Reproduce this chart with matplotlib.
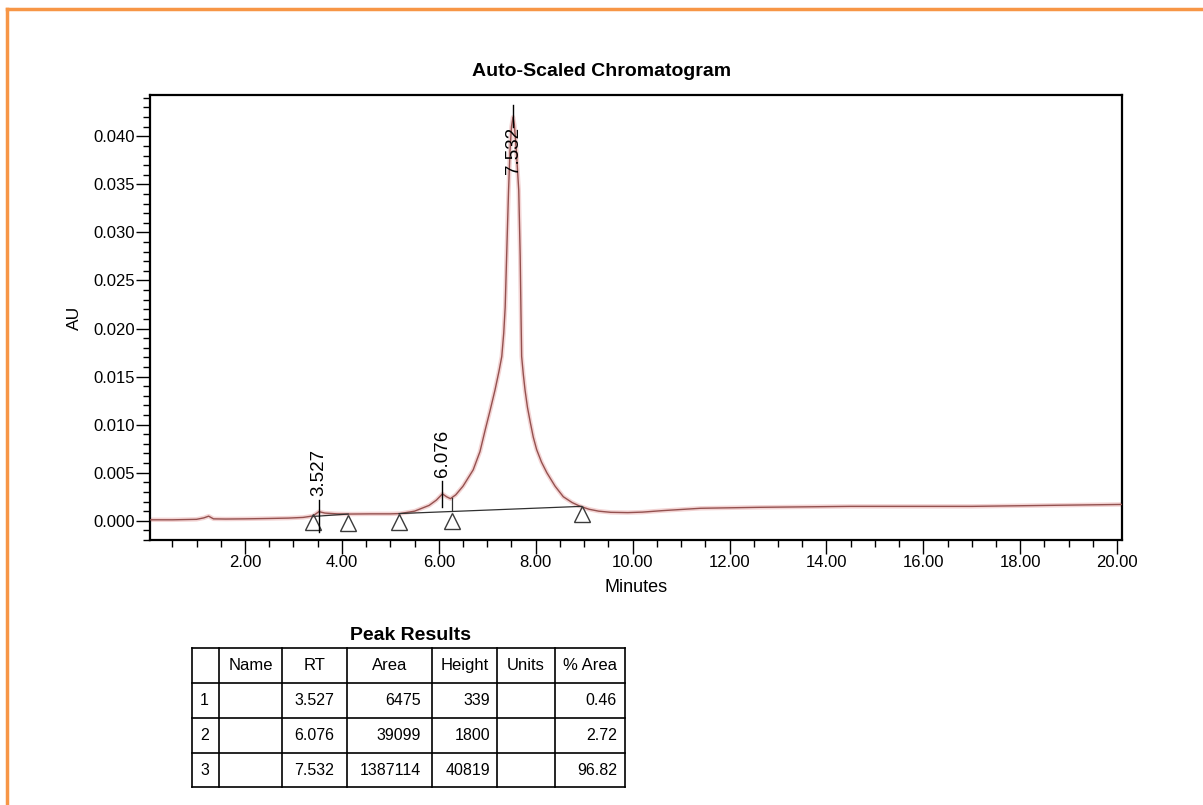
import numpy as np
import matplotlib
matplotlib.use('Agg')
import matplotlib.pyplot as plt
from matplotlib.ticker import MultipleLocator, FormatStrFormatter
from matplotlib.lines import Line2D

plt.rcParams['font.family'] = ['Liberation Sans', 'DejaVu Sans']

# ---- chromatogram trace ----
time_min = [0.00, 0.50, 1.00, 1.15, 1.25, 1.35, 1.60, 2.00, 2.50, 2.90, 3.20, 3.40,
            3.527, 3.65, 3.90, 4.15, 4.60, 5.00, 5.20, 5.50, 5.80, 5.95, 6.076, 6.16,
            6.24, 6.35, 6.50, 6.71, 6.85, 6.96, 7.06, 7.16, 7.24, 7.30, 7.34, 7.37,
            7.40, 7.42, 7.44, 7.47, 7.50, 7.532, 7.56, 7.60, 7.65, 7.665, 7.68, 7.695,
            7.71, 7.745, 7.78, 7.83, 7.89, 7.95, 8.02, 8.12, 8.23, 8.40, 8.57, 8.75,
            8.92, 9.10, 9.30, 9.55, 9.90, 10.20, 10.60, 11.40, 12.60, 14.50, 17.00, 20.10]
absorbance = [0.00010, 0.00010, 0.00015, 0.00030, 0.00048, 0.00020, 0.00018, 0.00020,
              0.00024, 0.00028, 0.00035, 0.00050, 0.00095, 0.00080, 0.00072, 0.00070,
              0.00072, 0.00072, 0.00075, 0.00100, 0.00160, 0.00215, 0.00280, 0.00250,
              0.00230, 0.00270, 0.00360, 0.00530, 0.00720, 0.00950, 0.01150, 0.01360,
              0.01550, 0.01710, 0.01950, 0.02220, 0.02750, 0.03100, 0.03440, 0.03850,
              0.04100, 0.04200, 0.04120, 0.03850, 0.03440, 0.03100, 0.02750, 0.02200,
              0.01710, 0.01520, 0.01360, 0.01180, 0.01020, 0.00870, 0.00740, 0.00610,
              0.00500, 0.00360, 0.00250, 0.00190, 0.00150, 0.00120, 0.00100, 0.00088,
              0.00085, 0.00090, 0.00105, 0.00130, 0.00140, 0.00150, 0.00150, 0.00170]

# ---- peak results ----
peak_rt = [3.527, 6.076, 7.532]
peak_area = [6475, 39099, 1387114]
peak_height = [339, 1800, 40819]
peak_pct_area = [0.46, 2.72, 96.82]

# ---- integration marks ----
marker_t = [3.41, 4.13, 5.18, 6.27, 8.95]
marker_au = [-0.00010, -0.00020, -0.00010, -0.00005, 0.00068]
baseline_t = [[3.41, 4.13], [5.18, 8.95]]
baseline_au = [[0.00045, 0.00070], [0.00075, 0.00150]]
drop_t = [6.27]

W, H = 1203, 805
fig = plt.figure(figsize=(W / 100, H / 100), dpi=100)
fig.patch.set_facecolor('white')

# orange frame (top and left)
fig.add_artist(Line2D([7 / W, 7 / W], [0, 1 - 9 / H], color='#f79646', lw=2.5,
                      transform=fig.transFigure))
fig.add_artist(Line2D([7 / W, 1], [1 - 9 / H, 1 - 9 / H], color='#f79646', lw=2.5,
                      transform=fig.transFigure))

ax = fig.add_axes([150 / W, 1 - 540 / H, (1122 - 150) / W, (540 - 95) / H])
ax.plot(time_min, absorbance, color='#f3d4d4', lw=3.2, zorder=2, solid_joinstyle='round')
ax.plot(time_min, absorbance, color='#94514f', lw=1.0, zorder=3, solid_joinstyle='round')

for bt, ba in zip(baseline_t, baseline_au):
    ax.plot(bt, ba, color='#303030', lw=0.9, zorder=4)
for dt in drop_t:
    base = np.interp(dt, baseline_t[1], baseline_au[1])
    ax.plot([dt, dt], [base, np.interp(dt, time_min, absorbance)], color='#303030',
            lw=0.9, zorder=4)

ax.plot(marker_t, marker_au, ls='none', marker='^', ms=12, mfc='none', mec='#3a3a3a',
        mew=1.0, zorder=5)

# peak labels
for i, rt in enumerate(peak_rt):
    apex = np.interp(rt, time_min, absorbance)
    if i == 0:
        ax.plot([rt, rt], [apex - 0.0021, apex + 0.0012], color='black', lw=1.0, zorder=6)
        ax.text(rt, apex + 0.0016, f'{rt:.3f}', rotation=90, ha='center', va='bottom',
                fontsize=13.5, zorder=6)
    elif i == 1:
        ax.plot([rt, rt], [apex - 0.00135, apex + 0.00135], color='black', lw=1.0, zorder=6)
        ax.text(rt, apex + 0.0018, f'{rt:.3f}', rotation=90, ha='center', va='bottom',
                fontsize=13.5, zorder=6)
    else:
        ax.plot([rt, rt], [apex - 0.0010, apex + 0.0013], color='black', lw=1.0, zorder=6)
        ax.text(rt, apex - 0.0010, f'{rt:.3f}', rotation=90, ha='center', va='top',
                fontsize=13.5, zorder=6)

ax.set_xlim(0.04, 20.1)
ax.set_ylim(-0.0020, 0.0443)
ax.xaxis.set_major_locator(MultipleLocator(2))
ax.xaxis.set_minor_locator(MultipleLocator(0.5))
ax.xaxis.set_major_formatter(FormatStrFormatter('%.2f'))
ax.yaxis.set_major_locator(MultipleLocator(0.005))
ax.yaxis.set_minor_locator(MultipleLocator(0.001))
ax.yaxis.set_major_formatter(FormatStrFormatter('%.3f'))
ax.tick_params(axis='both', which='major', length=10, width=1.0, labelsize=12, pad=1,
               direction='out')
ax.tick_params(axis='both', which='minor', length=5, width=1.0, direction='out')
for s in ax.spines.values():
    s.set_linewidth(1.6)
ax.set_xlabel('Minutes', fontsize=13, labelpad=6)
ax.set_ylabel('AU', fontsize=12.5, labelpad=8)
fig.text(602 / W, 1 - 72 / H, 'Auto-Scaled Chromatogram', ha='center', va='center',
         fontsize=14, fontweight='bold')

# ---- peak results table ----
tx0, tx1, ty0, ty1 = 192, 625, 648, 787
tab = fig.add_axes([tx0 / W, 1 - ty1 / H, (tx1 - tx0) / W, (ty1 - ty0) / H])
tab.set_xlim(tx0, tx1)
tab.set_ylim(ty1, ty0)
tab.axis('off')
col_edges = [192, 219, 282, 347, 432, 497, 555, 625]
row_edges = [648, 683, 718, 753, 787]
for x in col_edges:
    tab.plot([x, x], [row_edges[0], row_edges[-1]], color='black', lw=1.2, clip_on=False)
for y in row_edges:
    tab.plot([col_edges[0], col_edges[-1]], [y, y], color='black', lw=1.2, clip_on=False)

headers = ['', 'Name', 'RT', 'Area', 'Height', 'Units', '% Area']
for j, h in enumerate(headers):
    tab.text((col_edges[j] + col_edges[j + 1]) / 2, (row_edges[0] + row_edges[1]) / 2, h,
             ha='center', va='center', fontsize=12)
for i in range(len(peak_rt)):
    yc = (row_edges[i + 1] + row_edges[i + 2]) / 2
    tab.text(col_edges[0] + 8, yc, str(i + 1), ha='left', va='center', fontsize=11.5)
    tab.text((col_edges[2] + col_edges[3]) / 2, yc, f'{peak_rt[i]:.3f}', ha='center',
             va='center', fontsize=11.5)
    tab.text(col_edges[4] - 11, yc, str(peak_area[i]), ha='right', va='center', fontsize=11.5)
    tab.text(col_edges[5] - 7, yc, str(peak_height[i]), ha='right', va='center', fontsize=11.5)
    tab.text(col_edges[7] - 8, yc, f'{peak_pct_area[i]:.2f}', ha='right', va='center',
             fontsize=11.5)
fig.text(410 / W, 1 - 636 / H, 'Peak Results', ha='center', va='center', fontsize=14,
         fontweight='bold')

fig.savefig('out.png', dpi=100)
